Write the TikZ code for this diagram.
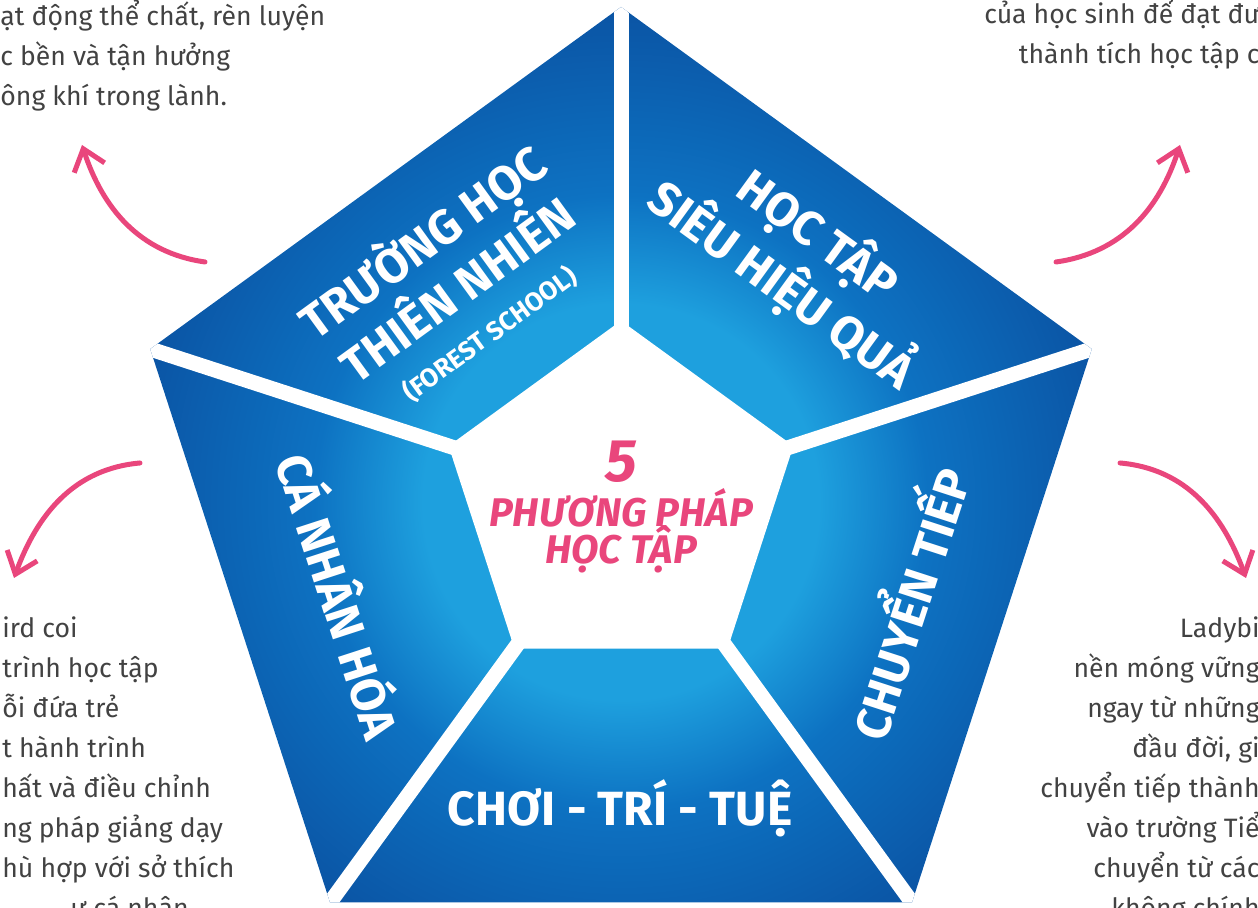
\documentclass[tikz,border=0pt]{standalone}
\usepackage{fontspec}
\setmainfont{Fira Sans}
\usetikzlibrary{arrows.meta}

\definecolor{lbpink}{RGB}{233,70,124}
\definecolor{lbgray}{RGB}{66,66,66}
\definecolor{lblight}{RGB}{30,160,222}
\definecolor{lbmid}{RGB}{13,114,194}
\definecolor{lbdark}{RGB}{11,84,164}

\pgfdeclareradialshading{lbshade}{\pgfpoint{0bp}{0bp}}{color(0bp)=(lblight); color(10bp)=(lblight); color(15.5bp)=(lbmid); color(25bp)=(lbdark); color(50bp)=(lbdark)}

\tikzset{
  gapline/.style={draw=white, line width=7.5pt},
  seglabel/.style={text=white, font=\bfseries\fontsize{24}{26}\selectfont, align=center, inner sep=0pt},
  centerlabel/.style={text=lbpink, font=\bfseries\itshape\fontsize{20}{22}\selectfont, inner sep=0pt},
  bodytext/.style={text=lbgray, font=\fontsize{13.3}{20}\selectfont, inner sep=0pt},
  pinkarrow/.style={draw=lbpink, line width=2.5pt, line cap=round,
    -{Straight Barb[length=10pt, width=16pt, line width=2.5pt]}}
}

\begin{document}
\begin{tikzpicture}[x=0.5pt, y=0.5pt]
      \useasboundingbox (0,0) rectangle (1258,908);
      \clip (0,0) rectangle (1258,908);
      \coordinate (c) at (621,406);
      \foreach \i/\a in {1/90,2/162,3/234,4/306,5/18}{
        \path (c) ++(\a:495) coordinate (o\i);
        \path (c) ++(\a:540) coordinate (e\i);
        \path (c) ++(\a:172) coordinate (i\i);
      }
      \begin{scope}
        \clip (o1) -- (o2) -- (o3) -- (o4) -- (o5) -- cycle;
        \shade[shading=lbshade] (c) circle (495);
        \foreach \i in {1,...,5}
          \draw[gapline] (c) -- (e\i);
        \filldraw[gapline, fill=white, line join=miter] (i1) -- (i2) -- (i3) -- (i4) -- (i5) -- cycle;
      \end{scope}

      \node[seglabel, rotate=36] (forest) at (452,626)
        {TRƯỜNG HỌC\\THIÊN NHIÊN\\[-3pt]{\fontsize{13}{14}\selectfont (FOREST SCHOOL)}};
      \node[seglabel, rotate=-36] (sieuhieuqua) at (800,648) {HỌC TẬP\\SIÊU HIỆU QUẢ};
      \node[seglabel, rotate=-72] (canhanhoa) at (342,313) {CÁ NHÂN HÓA};
      \node[seglabel, rotate=72] (chuyentiep) at (904,306) {CHUYỂN TIẾP};
      \node[seglabel] (choitritue) at (620,100) {CHƠI - TRÍ - TUỆ};

      \node[centerlabel, font=\bfseries\itshape\fontsize{30}{32}\selectfont] (five) at (621,446) {5};
      \node[centerlabel] (phuongphap) at (621,400) {PHƯƠNG PHÁP};
      \node[centerlabel] (hoctap) at (621,359) {HỌC TẬP};

      \node[bodytext, anchor=base west, align=left] (forestnote) at (0,802)
        {ạt động thể chất, rèn luyện\\c bền và tận hưởng\\ông khí trong lành.};
      \node[bodytext, anchor=base east, align=right] (hoctapnote) at (1260,844)
        {của học sinh để đạt đư\\thành tích học tập c};
      \node[bodytext, anchor=base west, align=left] (canhannote) at (2,30)
        {ird coi\\trình học tập\\ỗi đứa trẻ\\t hành trình\\hất và điều chỉnh\\ng pháp giảng dạy\\hù hợp với sở thích};
      \node[bodytext, anchor=base west] (canhanend) at (70,-10) {ự cá nhân};
      \node[bodytext, anchor=base east, align=right] (chuyentiepnote) at (1260,-10)
        {Ladybi\\nền móng vững\\ngay từ những\\đầu đời, gi\\chuyển tiếp thành\\vào trường Tiể\\chuyển từ các\\không chính};

      \coordinate (tlfrom) at (205,646);
      \coordinate (tlto) at (82,763);
      \coordinate (trfrom) at (1056,646);
      \coordinate (trto) at (1180,763);
      \coordinate (lfrom) at (140,445);
      \coordinate (lto) at (14,330);
      \coordinate (rfrom) at (1120,445);
      \coordinate (rto) at (1246,330);
      \draw[pinkarrow] (tlfrom) to[out=172, in=-72] (tlto);
      \draw[pinkarrow] (trfrom) to[out=8, in=-108] (trto);
      \draw[pinkarrow] (lfrom) to[out=185, in=70] (lto);
      \draw[pinkarrow] (rfrom) to[out=-5, in=110] (rto);
\end{tikzpicture}
\end{document}
